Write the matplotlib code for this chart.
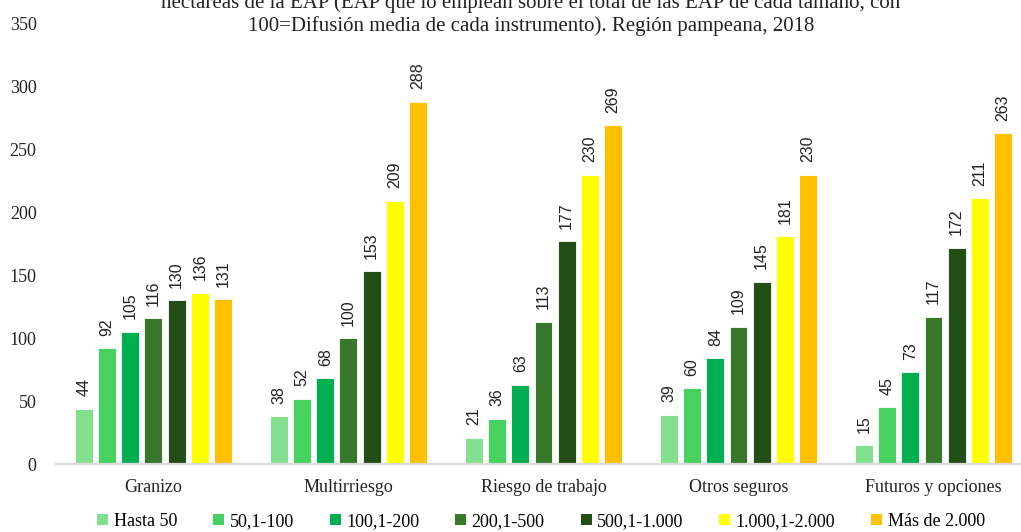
import numpy as np
import matplotlib.pyplot as plt
from matplotlib.patches import Patch

categories = ["Granizo", "Multirriesgo", "Riesgo de trabajo", "Otros seguros", "Futuros y opciones"]
sizes = ["Hasta 50", "50,1-100", "100,1-200", "200,1-500", "500,1-1.000", "1.000,1-2.000", "Más de 2.000"]
hasta_50 = [44, 38, 21, 39, 15]
s50_100 = [92, 52, 36, 60, 45]
s100_200 = [105, 68, 63, 84, 73]
s200_500 = [116, 100, 113, 109, 117]
s500_1000 = [130, 153, 177, 145, 172]
s1000_2000 = [136, 209, 230, 181, 211]
mas_2000 = [131, 288, 269, 230, 263]
series = [hasta_50, s50_100, s100_200, s200_500, s500_1000, s1000_2000, mas_2000]
colors = ["#82E08F", "#47D25F", "#00B050", "#38782A", "#234F17", "#FFFF00", "#FFC000"]

serif = "Liberation Serif"
plt.rcParams["font.family"] = serif

fig = plt.figure(figsize=(10.21, 5.32), dpi=100)
ax = fig.add_axes([0.0548, 0.1278, 0.955, 0.828])

x = np.arange(len(categories))
step = 0.119
width = 0.092
for i, (vals, col) in enumerate(zip(series, colors)):
    pos = x + (i - 3) * step
    ax.bar(pos, vals, width=width, color=col, edgecolor="white", linewidth=0.6)
    for p, v in zip(pos, vals):
        ax.annotate(str(v), (p, v), xytext=(0, 9), textcoords="offset points",
                    ha="center", va="bottom", rotation=90,
                    fontsize=11.5, family="Liberation Sans", color="#222222")

ax.set_xlim(-0.5, 4.5)
ax.set_ylim(0, 350)
ax.set_yticks(range(0, 351, 50))
ax.set_xticks(x)
ax.set_xticklabels(categories, fontsize=13)
ax.tick_params(axis="both", length=0, labelsize=13, colors="#222222")
ax.tick_params(axis="y", pad=14)
ax.tick_params(axis="x", pad=11)
for s in ["top", "right", "left"]:
    ax.spines[s].set_visible(False)
ax.spines["bottom"].set_color("#d9d9d9")
ax.spines["bottom"].set_linewidth(1.6)

handles = [Patch(facecolor=c, label=l) for c, l in zip(colors, sizes)]
fig.legend(handles=handles, loc="center", bbox_to_anchor=(0.53, 0.02), ncol=7,
           frameon=False, fontsize=13, handlelength=0.6, handleheight=0.6,
           handletextpad=0.3, columnspacing=2.0)

# title: first line is clipped at the top edge, as in the source image
fig.text(0.52, 0.932,
         "hectáreas de la EAP (EAP que lo emplean sobre el total de las EAP de cada tamaño, con\n"
         "100=Difusión media de cada instrumento). Región pampeana, 2018",
         ha="center", va="bottom", fontsize=15, linespacing=1.2, color="#222222")

fig.savefig("out.png", dpi=100)
